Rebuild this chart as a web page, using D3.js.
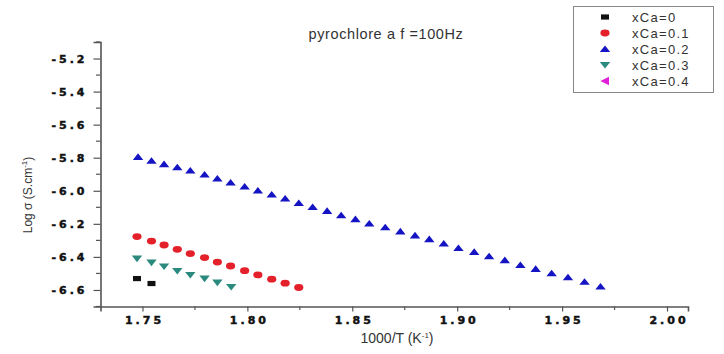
<!DOCTYPE html>
<html>
<head>
<meta charset="UTF-8">
<title>pyrochlore a f = 100Hz</title>
<style>
  body { margin: 0; background: #fff; }
  svg { display: block; }
  .tick-lbl { font-family: "DejaVu Sans", sans-serif; font-weight: bold; font-size: 11px; letter-spacing: 3px; fill: #111; stroke: #111; stroke-width: 0.45px; }
  .txt { font-family: "Liberation Sans", Arial, sans-serif; fill: #333; }
</style>
</head>
<body>
<svg id="chart"></svg>
<script src="https://d3js.org/d3.v7.min.js"></script>
<script>
let width = 724, height = 354;

// data (x = 1000/T, y = log sigma)
const x0 = [1.7474, 1.7543];
const y0 = [-6.531, -6.561];

const x01 = [1.7474, 1.7543, 1.7603, 1.7666, 1.7728, 1.7796, 1.7857, 1.7920, 1.7987, 1.8050, 1.8116, 1.8180, 1.8245];
const y01 = [-6.277, -6.304, -6.328, -6.354, -6.380, -6.404, -6.431, -6.455, -6.483, -6.509, -6.535, -6.559, -6.585];

const x02 = [1.7479, 1.7543, 1.7603, 1.7666, 1.7728, 1.7796, 1.7857, 1.7920, 1.7987, 1.8050, 1.8116,
             1.8180, 1.8245, 1.8311, 1.8380, 1.8447, 1.8515, 1.8581, 1.8657, 1.8729, 1.8799, 1.8867,
             1.8936, 1.9006, 1.9081, 1.9152, 1.9227, 1.9301, 1.9374, 1.9450, 1.9528, 1.9607, 1.9683];
const y02 = [-5.795, -5.819, -5.839, -5.858, -5.878, -5.902, -5.926, -5.950, -5.974, -5.999, -6.023,
             -6.047, -6.074, -6.098, -6.122, -6.148, -6.172, -6.198, -6.221, -6.246, -6.270, -6.293,
             -6.319, -6.346, -6.370, -6.396, -6.420, -6.449, -6.473, -6.499, -6.523, -6.551, -6.579];

const x03 = [1.7474, 1.7543, 1.7603, 1.7666, 1.7728, 1.7796, 1.7857, 1.7923];
const y03 = [-6.410, -6.434, -6.458, -6.485, -6.509, -6.531, -6.555, -6.582];

const x04 = [];
const y04 = [];

const seriesNames = ["xCa=0", "xCa=0.1", "xCa=0.2", "xCa=0.3", "xCa=0.4"];
const seriesColors = ["#111111", "#e4202a", "#1414c4", "#2a8a7e", "#e020d8"];
const seriesShapes = ["square", "circle", "up", "down", "left"];

const xTicks = [1.75, 1.80, 1.85, 1.90, 1.95, 2.00];
const yTicks = [-5.2, -5.4, -5.6, -5.8, -6.0, -6.2, -6.4, -6.6];

const title = "pyrochlore a f =100Hz";

let svg = d3.select("#chart").attr("width", width).attr("height", height);

let x = d3.scaleLinear().domain([1.73, 2.01]).range([100.5, 688]);
let y = d3.scaleLinear().domain([-6.7, -5.1]).range([306.5, 42]);

// marker shapes, a bit flattened like the picture
function shapePath(s) {
  if (s == "square") return "M-4,-2.6H4V2.6H-4Z";
  if (s == "circle") return "M-4.6,0A4.6,3.4 0 1,0 4.6,0A4.6,3.4 0 1,0 -4.6,0Z";
  if (s == "up") return "M-5.2,3L0,-3.6L5.2,3Z";
  if (s == "down") return "M-5.2,-3L0,3.6L5.2,-3Z";
  return "M4,-4.2L4,4.2L-4.6,0Z";
}

// axes
let yAxis = d3.axisLeft(y).tickValues(yTicks).tickSize(7).tickFormat(d3.format(".1f"));
let gy = svg.append("g").attr("transform", "translate(100.5,0)").call(yAxis);
gy.select(".domain").attr("stroke", "#555").attr("stroke-width", 1.6);
gy.selectAll(".tick line").attr("stroke", "#555").attr("stroke-width", 1.2);
gy.selectAll(".tick text").attr("class", "tick-lbl").attr("x", -13)
  .text(d => d3.format(".1f")(d).replace("−", "-"));

// minor ticks on y
svg.append("g").selectAll("line")
  .data(d3.range(-6.7, -5.05, 0.2).map(v => +v.toFixed(1)))
  .enter().append("line")
  .attr("x1", 96).attr("x2", 100.5)
  .attr("y1", d => y(d)).attr("y2", d => y(d))
  .attr("stroke", "#555").attr("stroke-width", 1.2);

let xAxis = d3.axisBottom(x).tickValues(xTicks).tickSize(5).tickFormat(d3.format(".2f"));
let gx = svg.append("g").attr("transform", "translate(0,306.5)").call(xAxis);
gx.select(".domain").attr("stroke", "#555").attr("stroke-width", 1.6);
gx.selectAll(".tick line").attr("stroke", "#555").attr("stroke-width", 1.2);
gx.selectAll(".tick text").attr("class", "tick-lbl").attr("y", 10).attr("dx", "1.5px");

// minor ticks on x
svg.append("g").selectAll("line")
  .data([1.775, 1.825, 1.875, 1.925, 1.975])
  .enter().append("line")
  .attr("x1", d => x(d)).attr("x2", d => x(d))
  .attr("y1", 306.5).attr("y2", 310)
  .attr("stroke", "#555").attr("stroke-width", 1.2);

// series
let allX = [x0, x01, x02, x03, x04];
let allY = [y0, y01, y02, y03, y04];
allX.forEach((xs, i) => {
  let pts = xs.map((v, j) => ({ x: v, y: allY[i][j] }));
  svg.append("g").selectAll("path")
    .data(pts)
    .enter().append("path")
    .attr("d", shapePath(seriesShapes[i]))
    .attr("transform", d => "translate(" + x(d.x) + "," + y(d.y) + ")")
    .attr("fill", seriesColors[i]);
});

// title
svg.append("text").attr("class", "txt")
  .attr("x", 386).attr("y", 39)
  .attr("text-anchor", "middle")
  .style("font-size", "14.5px")
  .style("letter-spacing", "0.6px")
  .text(title);

// axis titles
let xl = svg.append("text").attr("class", "txt")
  .attr("x", 397).attr("y", 343)
  .attr("text-anchor", "middle")
  .style("font-size", "14px");
xl.append("tspan").text("1000/T (K");
xl.append("tspan").attr("dy", -5).style("font-size", "8px").text("-1");
xl.append("tspan").attr("dy", 5).text(")");

let yl = svg.append("text").attr("class", "txt")
  .attr("transform", "translate(32,195) rotate(-90)")
  .attr("text-anchor", "middle")
  .style("font-size", "12px");
yl.append("tspan").text("Log σ (S.cm");
yl.append("tspan").attr("dy", -5).style("font-size", "8px").text("-1");
yl.append("tspan").attr("dy", 5).text(")");

// legend
let lg = svg.append("g");
lg.append("rect")
  .attr("x", 573.5).attr("y", 6.5).attr("width", 140).attr("height", 86)
  .attr("fill", "#fff").attr("stroke", "#888").attr("stroke-width", 1);
seriesNames.forEach((n, i) => {
  let ry = 17 + i * 16;
  lg.append("path")
    .attr("d", shapePath(seriesShapes[i]))
    .attr("transform", "translate(605," + ry + ")")
    .attr("fill", seriesColors[i]);
  lg.append("text").attr("class", "txt")
    .attr("x", 632).attr("y", ry + 4.5)
    .style("font-size", "13px")
    .style("letter-spacing", "1.3px")
    .text(n);
});
</script>
</body>
</html>
